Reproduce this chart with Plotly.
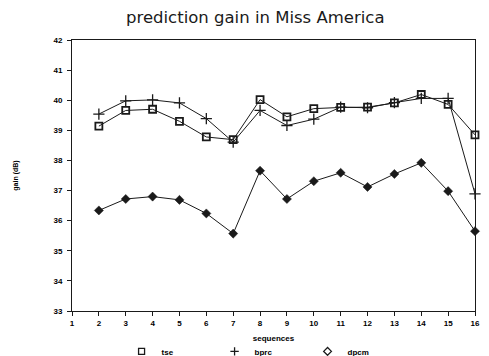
import plotly.graph_objects as go

seq = list(range(2, 17))
tse = [39.14, 39.66, 39.70, 39.30, 38.78, 38.69, 40.02, 39.45, 39.72, 39.76, 39.77, 39.91, 40.19, 39.86, 38.85]
bprc = [39.54, 39.98, 40.01, 39.91, 39.39, 38.61, 39.66, 39.16, 39.37, 39.77, 39.75, 39.92, 40.06, 40.06, 36.89]
dpcm = [36.34, 36.72, 36.80, 36.69, 36.24, 35.57, 37.66, 36.72, 37.31, 37.59, 37.12, 37.55, 37.92, 36.98, 35.65]
x_ticks = list(range(1, 17))
y_ticks = list(range(33, 43))

INK = "#1a1a1a"
FONT = "Liberation Sans"

fig = go.Figure()
series = [
    ("tse", tse, dict(symbol="square-open", size=7, color=INK, line=dict(width=1.8, color=INK)),
     dict(symbol="square-open", size=6, color=INK, line=dict(width=1.3, color=INK))),
    ("bprc", bprc, dict(symbol="cross-thin", size=8, color=INK, line=dict(width=1.3, color=INK)),
     dict(symbol="cross-thin", size=6, color=INK, line=dict(width=1.3, color=INK))),
    ("dpcm", dpcm, dict(symbol="diamond", size=7, color=INK, line=dict(width=0.5, color=INK)),
     dict(symbol="diamond-open", size=6, color=INK, line=dict(width=1.3, color=INK))),
]
for name, vals, mk, lmk in series:
    fig.add_trace(go.Scatter(x=seq, y=vals, mode="lines+markers", name=name, cliponaxis=False,
                             line=dict(color=INK, width=1), marker=mk, showlegend=False))
for name, vals, mk, lmk in series:
    fig.add_trace(go.Scatter(x=[None], y=[None], mode="markers", name="<b>" + name + "</b>",
                             marker=lmk, showlegend=True))

axis_common = dict(showgrid=False, zeroline=False, showline=True, linecolor=INK, linewidth=1,
                   mirror=True, ticks="outside", ticklen=4, tickcolor=INK, tickwidth=1,
                   tickfont=dict(family=FONT, size=8, color="#000000", weight="bold"))

fig.update_layout(
    width=489, height=356,
    margin=dict(l=72, r=14, t=40, b=45, autoexpand=False),
    paper_bgcolor="white", plot_bgcolor="white",
    title=dict(text="prediction gain in Miss America", x=0.522, xanchor="center", y=0.952, yanchor="middle",
               font=dict(family="DejaVu Sans", size=16.5, color=INK)),
    xaxis=dict(range=[1, 16], tickvals=x_ticks, **axis_common,
               title=dict(text="<b>sequences</b>", standoff=8, font=dict(family=FONT, size=8, color="#000000"))),
    yaxis=dict(range=[33, 42], tickvals=y_ticks, ticklabelstandoff=3, **axis_common,
               title=dict(text="<b>gain (dB)</b>", standoff=34, font=dict(family=FONT, size=7, color="#000000"))),
    showlegend=True,
    legend=dict(orientation="h", x=0.123, xanchor="left", y=-0.149, yanchor="middle",
                entrywidth=48, entrywidthmode="pixels", tracegroupgap=0,
                font=dict(family=FONT, size=8, color="#000000"), bgcolor="rgba(0,0,0,0)"),
)

fig.write_html("out.html")
